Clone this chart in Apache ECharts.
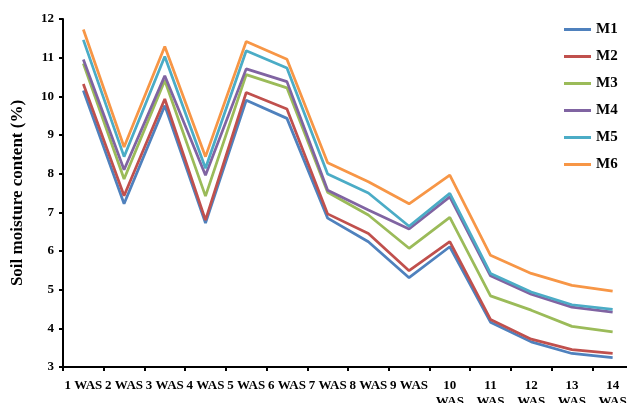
<!DOCTYPE html>
<html>
<head>
<meta charset="utf-8">
<script src="https://cdn.jsdelivr.net/npm/echarts@6/dist/echarts.min.js"></script>
<style>
  html, body { margin: 0; padding: 0; background: #fff; }
  #chart { width: 627px; height: 403px; }
</style>
</head>
<body>
<div id="chart"></div>
<script>
// Weeks after sowing
const weeks = ['1 WAS', '2 WAS', '3 WAS', '4 WAS', '5 WAS', '6 WAS', '7 WAS', '8 WAS', '9 WAS',
  '10\nWAS', '11\nWAS', '12\nWAS', '13\nWAS', '14\nWAS'];

// Soil moisture content (%) per treatment
const M1 = [10.15, 7.22, 9.76, 6.72, 9.90, 9.43, 6.85, 6.24, 5.31, 6.11, 4.16, 3.65, 3.35, 3.24];
const M2 = [10.32, 7.43, 9.93, 6.80, 10.10, 9.67, 6.96, 6.45, 5.49, 6.24, 4.23, 3.72, 3.45, 3.35];
const M3 = [10.85, 7.86, 10.41, 7.42, 10.56, 10.22, 7.52, 6.93, 6.07, 6.87, 4.84, 4.47, 4.05, 3.91];
const M4 = [10.95, 8.10, 10.53, 7.96, 10.71, 10.38, 7.57, 7.06, 6.57, 7.40, 5.36, 4.88, 4.55, 4.42];
const M5 = [11.46, 8.44, 11.03, 8.14, 11.18, 10.73, 7.99, 7.50, 6.64, 7.49, 5.42, 4.94, 4.61, 4.49];
const M6 = [11.73, 8.69, 11.29, 8.44, 11.42, 10.96, 8.28, 7.79, 7.22, 7.96, 5.89, 5.42, 5.11, 4.96];

const seriesNames = ['M1', 'M2', 'M3', 'M4', 'M5', 'M6'];
const seriesValues = [M1, M2, M3, M4, M5, M6];
const palette = ['#4F81BD', '#C0504D', '#9BBB59', '#8064A2', '#4BACC6', '#F79646'];

const yTicks = { min: 3, max: 12, interval: 1 };

const serif = '"Liberation Serif", "Times New Roman", serif';

const chart = echarts.init(document.getElementById('chart'), null, { renderer: 'canvas' });

chart.setOption({
  animation: false,
  backgroundColor: '#ffffff',
  color: palette,
  grid: { left: 63, right: -6, top: 19, bottom: 36, containLabel: false, outerBoundsMode: 'none' },
  legend: {
    orient: 'vertical',
    left: 559,
    top: 17,
    icon: 'rect',
    itemWidth: 27,
    itemHeight: 3,
    itemGap: 12,
    data: seriesNames,
    textStyle: { fontFamily: serif, fontWeight: 'bold', fontSize: 15, color: '#000' }
  },
  xAxis: {
    type: 'category',
    data: weeks,
    boundaryGap: true,
    axisLine: { lineStyle: { color: '#000', width: 2 } },
    axisTick: { show: true, length: 4, lineStyle: { color: '#000', width: 2 } },
    axisLabel: {
      interval: 0,
      margin: 11,
      color: '#000',
      fontFamily: serif,
      fontWeight: 'bold',
      fontSize: 13,
      lineHeight: 16
    },
    splitLine: { show: false }
  },
  yAxis: {
    type: 'value',
    min: yTicks.min,
    max: yTicks.max,
    interval: yTicks.interval,
    name: 'Soil moisture content (%)',
    nameLocation: 'middle',
    nameGap: 37,
    nameTextStyle: { fontFamily: serif, fontWeight: 'bold', fontSize: 17, color: '#000' },
    axisLine: { show: true, lineStyle: { color: '#000', width: 2 } },
    axisTick: { show: true, length: 4, lineStyle: { color: '#000', width: 2 } },
    axisLabel: {
      margin: 9,
      color: '#000',
      fontFamily: serif,
      fontWeight: 'bold',
      fontSize: 13
    },
    splitLine: { show: false }
  },
  series: seriesNames.map((name, i) => ({
    name: name,
    type: 'line',
    data: seriesValues[i],
    symbol: 'none',
    lineStyle: { width: 2.75, color: palette[i] },
    itemStyle: { color: palette[i] }
  }))
});
</script>
</body>
</html>
